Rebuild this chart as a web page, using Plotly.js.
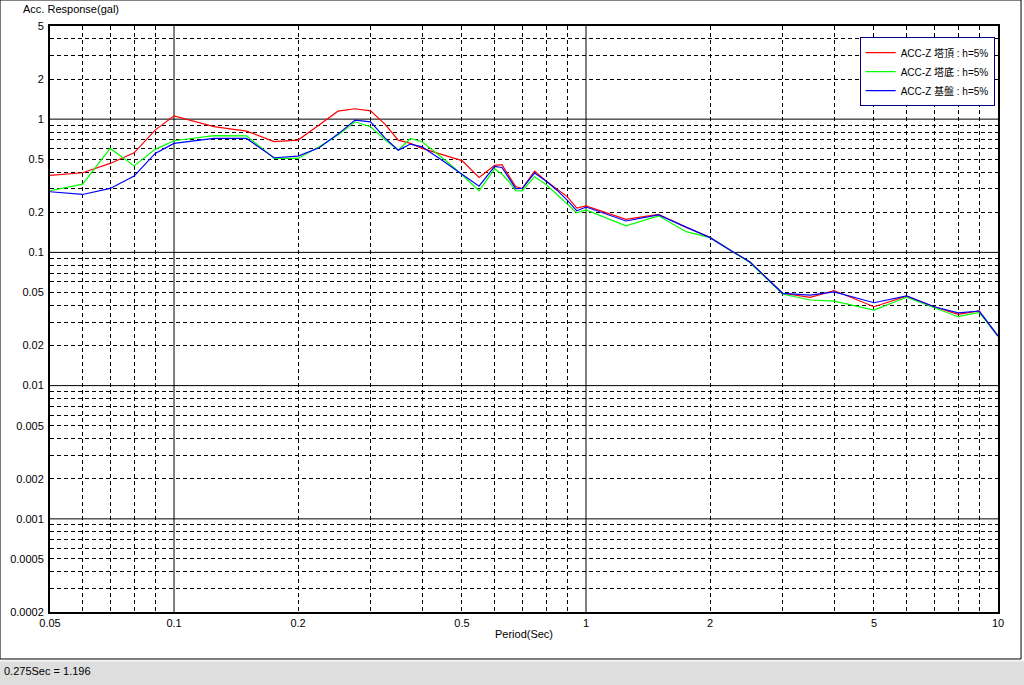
<!DOCTYPE html>
<html>
<head>
<meta charset="utf-8">
<script src="https://cdn.plot.ly/plotly-3.0.1.min.js"></script>
<style>
html,body{margin:0;padding:0;background:#fff;}
#chart{width:1024px;height:685px;}
</style>
</head>
<body>
<div id="chart"></div>
<script>
// Periods (sec)
const periods = [0.05,0.06,0.07,0.08,0.09,0.1,0.125,0.15,0.175,0.2,0.225,0.25,0.275,0.3,0.325,0.35,0.375,0.4,0.45,0.5,0.55,0.6,0.625,0.65,0.675,0.7,0.75,0.8,0.85,0.9,0.95,1.0,1.25,1.5,1.75,2.0,2.25,2.5,3.0,3.5,4,5,6,7,8,9,10];

// ACC-Z 塔頂
const topResp = [0.378,0.396,0.465,0.559,0.827,1.059,0.878,0.813,0.678,0.696,0.902,1.148,1.196,1.154,0.917,0.696,0.657,0.603,0.539,0.488,0.365,0.450,0.455,0.374,0.312,0.301,0.407,0.343,0.301,0.262,0.215,0.223,0.177,0.193,0.154,0.130,0.103,0.0846,0.0493,0.0460,0.0517,0.0391,0.0470,0.0391,0.0343,0.0363,0.02355];

// ACC-Z 塔底
const baseResp = [0.290,0.325,0.603,0.446,0.593,0.688,0.752,0.750,0.507,0.507,0.620,0.761,0.955,0.876,0.704,0.585,0.716,0.676,0.507,0.382,0.290,0.423,0.387,0.339,0.291,0.290,0.370,0.323,0.272,0.231,0.198,0.208,0.158,0.188,0.143,0.129,0.103,0.0839,0.0487,0.0439,0.0431,0.0369,0.0460,0.0387,0.0329,0.0355,0.02355];

// ACC-Z 基盤
const groundResp = [0.285,0.272,0.302,0.374,0.553,0.657,0.716,0.716,0.513,0.528,0.609,0.772,0.983,0.954,0.724,0.585,0.650,0.620,0.485,0.389,0.314,0.442,0.434,0.361,0.301,0.302,0.394,0.343,0.293,0.247,0.205,0.219,0.172,0.191,0.154,0.129,0.103,0.0846,0.0493,0.0478,0.0506,0.0419,0.0472,0.0391,0.0352,0.0363,0.02355];

const seriesNames = ['ACC-Z 塔頂 : h=5%','ACC-Z 塔底 : h=5%','ACC-Z 基盤 : h=5%'];
const seriesColors = ['#ff0000','#00ff00','#0000ff'];

const xTickVals = [0.05,0.1,0.2,0.5,1,2,5,10];
const xTickText = ['0.05','0.1','0.2','0.5','1','2','5','10'];
const yTickVals = [0.0002,0.0005,0.001,0.002,0.005,0.01,0.02,0.05,0.1,0.2,0.5,1,2,5];
const yTickText = ['0.0002','0.0005','0.001','0.002','0.005','0.01','0.02','0.05','0.1','0.2','0.5','1','2','5'];

const xDecades = [0.1,1];
const yDecades = [0.001,0.01,0.1,1];

function minorVals(lo, hi){
  const out=[];
  for(let d=-5; d<=2; d++){
    for(let m=2;m<=9;m++){
      const v=m*Math.pow(10,d);
      if(v>lo*1.0001 && v<hi*0.9999) out.push(v);
    }
  }
  return out;
}

const font = 'Liberation Sans, Arial, "Noto Sans CJK JP", sans-serif';

const ys=[topResp, baseResp, groundResp];
const traces = ys.map((y,i)=>({
  x: periods, y: y, type:'scatter', mode:'lines', name: seriesNames[i],
  line:{color:seriesColors[i], width:1.2}
}));

const shapes = [];
xDecades.forEach(v=>shapes.push({type:'line', xref:'x', yref:'paper', x0:v, x1:v, y0:0, y1:1, line:{color:'#000', width:1}, layer:'below'}));
yDecades.forEach(v=>shapes.push({type:'line', xref:'paper', yref:'y', x0:0, x1:1, y0:v, y1:v, line:{color:'#000', width:1}, layer:'below'}));
// window frame and status bar
shapes.push({type:'rect', xref:'paper', yref:'paper', x0:-0.0527, x1:1.0243, y0:-0.0802, y1:1.0444, line:{color:'#000', width:1}, fillcolor:'rgba(0,0,0,0)'});
shapes.push({type:'rect', xref:'paper', yref:'paper', x0:-0.06, x1:1.03, y0:-0.13, y1:-0.0825, line:{width:0}, fillcolor:'#dedede'});
shapes.push({type:'line', xref:'paper', yref:'paper', x0:-0.06, x1:1.03, y0:-0.0835, y1:-0.0835, line:{color:'#ffffff', width:1}});

const layout = {
  width:1024, height:685,
  margin:{l:50, r:26, t:26, b:73, pad:0},
  paper_bgcolor:'#ffffff', plot_bgcolor:'#ffffff',
  font:{family:font, size:11, color:'#000'},
  showlegend:true,
  legend:{x:0.9965, y:0.981, xanchor:'right', yanchor:'top', bgcolor:'#ffffff', bordercolor:'#000080', borderwidth:1,
          font:{family:font, size:10, color:'#000'}, tracegroupgap:0, itemwidth:30},
  xaxis:{type:'log', range:[Math.log10(0.05), 1], tickmode:'array', tickvals:xTickVals, ticktext:xTickText,
         showgrid:false, zeroline:false, showline:true, linecolor:'#000', linewidth:2, mirror:true, ticks:'',
         tickfont:{size:11}, title:{text:'Period(Sec)', font:{size:11}, standoff:2},
         minor:{tickmode:'array', tickvals:minorVals(0.05,10), showgrid:true, gridcolor:'#000', gridwidth:1, griddash:'4px,3px', ticks:''}},
  yaxis:{type:'log', range:[Math.log10(0.0002), Math.log10(5)], tickmode:'array', tickvals:yTickVals, ticktext:yTickText,
         showgrid:false, zeroline:false, showline:true, linecolor:'#000', linewidth:2, mirror:true, ticks:'',
         tickfont:{size:11}, ticklabelstandoff:2,
         minor:{tickmode:'array', tickvals:minorVals(0.0002,5), showgrid:true, gridcolor:'#000', gridwidth:1, griddash:'4px,3px', ticks:''}},
  shapes: shapes,
  annotations:[
    {text:'Acc. Response(gal)', xref:'paper', yref:'paper', x:-0.0305, y:1.043, xanchor:'left', yanchor:'top', showarrow:false, font:{size:11}},
    {text:'0.275Sec = 1.196', xref:'paper', yref:'paper', x:-0.0505, y:-0.1015, xanchor:'left', yanchor:'middle', showarrow:false, font:{size:11}}
  ]
};

Plotly.newPlot('chart', traces, layout, {displayModeBar:false, staticPlot:true});
</script>
</body>
</html>
